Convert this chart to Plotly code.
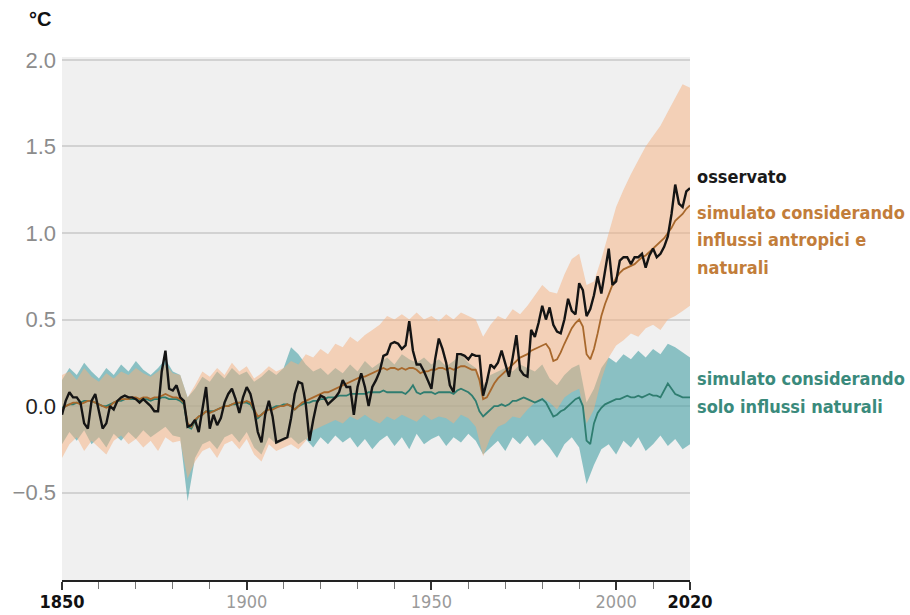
import plotly.graph_objects as go

years = list(range(1850, 2021))
band_years = list(range(1850, 2021, 2))

observed = [
    -0.05, 0.03, 0.08, 0.05, 0.05, 0.02, -0.10, -0.13, 0.03, 0.07,
    -0.03, -0.13, -0.10, 0.00, -0.02, 0.03, 0.05, 0.06, 0.05, 0.05,
    0.04, 0.02, 0.04, 0.02, 0.00, -0.03, -0.03, 0.20, 0.32, 0.10,
    0.09, 0.12, 0.05, 0.03, -0.12, -0.11, -0.08, -0.15, -0.02, 0.11,
    -0.13, -0.05, -0.11, -0.07, 0.02, 0.07, 0.10, 0.04, -0.04, 0.05,
    0.11, 0.07, -0.02, -0.15, -0.21, -0.05, 0.03, -0.06, -0.21, -0.20,
    -0.19, -0.18, -0.07, 0.07, 0.14, 0.13, 0.01, -0.20, -0.08, 0.02,
    0.06, 0.05, 0.01, 0.03, 0.05, 0.08, 0.15, 0.11, 0.11, -0.05,
    0.11, 0.19, 0.11, 0.00, 0.11, 0.15, 0.20, 0.29, 0.30, 0.36,
    0.37, 0.36, 0.33, 0.35, 0.49, 0.32, 0.24, 0.24, 0.20, 0.15,
    0.10, 0.27, 0.39, 0.33, 0.25, 0.12, 0.08, 0.30, 0.30, 0.29,
    0.27, 0.30, 0.29, 0.29, 0.06, 0.14, 0.24, 0.22, 0.25, 0.32,
    0.25, 0.17, 0.28, 0.41, 0.21, 0.18, 0.17, 0.44, 0.40, 0.48,
    0.58, 0.50, 0.57, 0.47, 0.43, 0.42, 0.50, 0.62, 0.55, 0.53,
    0.71, 0.67, 0.52, 0.56, 0.64, 0.75, 0.65, 0.77, 0.91, 0.70,
    0.72, 0.84, 0.86, 0.86, 0.82, 0.86, 0.86, 0.88, 0.80, 0.87,
    0.91, 0.86, 0.88, 0.92, 0.98, 1.11, 1.28, 1.17, 1.15, 1.24,
    1.26,
]

sim_human_natural = [
    -0.02, 0.00, 0.01, 0.02, 0.02, 0.01, 0.02, 0.03, 0.03, 0.02,
    0.01, 0.00, -0.01, 0.00, 0.02, 0.03, 0.04, 0.04, 0.04, 0.05,
    0.05, 0.04, 0.05, 0.05, 0.04, 0.05, 0.05, 0.06, 0.07, 0.06,
    0.05, 0.05, 0.04, 0.02, -0.10, -0.12, -0.08, -0.06, -0.05, -0.03,
    -0.04, -0.03, -0.02, -0.01, 0.00, 0.00, 0.01, 0.02, 0.02, 0.02,
    0.03, 0.02, -0.02, -0.06, -0.05, -0.03, -0.02, -0.02, -0.01, 0.00,
    0.00, 0.01, 0.00, -0.02, 0.00, 0.02, 0.03, 0.04, 0.05, 0.06,
    0.07, 0.08, 0.08, 0.09, 0.10, 0.11, 0.12, 0.13, 0.14, 0.15,
    0.16, 0.17, 0.17, 0.18, 0.19, 0.20, 0.21, 0.22, 0.21, 0.22,
    0.22, 0.21, 0.22, 0.21, 0.22, 0.22, 0.21, 0.19, 0.20, 0.20,
    0.21, 0.21, 0.22, 0.22, 0.21, 0.22, 0.21, 0.22, 0.23, 0.23,
    0.22, 0.21, 0.21, 0.15, 0.04, 0.05, 0.09, 0.13, 0.16, 0.18,
    0.20, 0.22, 0.24, 0.26, 0.28, 0.29, 0.30, 0.32, 0.33, 0.34,
    0.35, 0.36, 0.33, 0.26, 0.27, 0.31, 0.36, 0.41, 0.45, 0.48,
    0.50, 0.46, 0.30, 0.27, 0.33, 0.42, 0.52, 0.59, 0.65, 0.70,
    0.74, 0.77, 0.79, 0.80, 0.81, 0.82, 0.84, 0.86, 0.87, 0.89,
    0.91, 0.93, 0.95, 0.97, 1.00, 1.03, 1.07, 1.09, 1.11, 1.14,
    1.16,
]

sim_natural = [
    -0.01, 0.00, 0.01, 0.01, 0.02, 0.02, 0.03, 0.03, 0.03, 0.02,
    0.01, 0.00, 0.00, 0.01, 0.02, 0.03, 0.03, 0.04, 0.04, 0.04,
    0.04, 0.03, 0.04, 0.04, 0.03, 0.04, 0.04, 0.05, 0.05, 0.04,
    0.04, 0.04, 0.03, 0.01, -0.12, -0.13, -0.09, -0.06, -0.05, -0.03,
    -0.03, -0.03, -0.02, -0.01, 0.00, 0.00, 0.01, 0.01, 0.02, 0.02,
    0.02, 0.01, -0.03, -0.07, -0.05, -0.03, -0.02, -0.01, 0.00, 0.00,
    0.01, 0.01, 0.00, -0.02, 0.00, 0.01, 0.02, 0.02, 0.03, 0.03,
    0.04, 0.04, 0.05, 0.05, 0.05, 0.06, 0.06, 0.06, 0.07, 0.07,
    0.07, 0.07, 0.07, 0.08, 0.08, 0.08, 0.08, 0.09, 0.08, 0.08,
    0.08, 0.08, 0.08, 0.07, 0.09, 0.12, 0.08, 0.07, 0.08, 0.08,
    0.08, 0.07, 0.08, 0.08, 0.08, 0.08, 0.07, 0.09, 0.10, 0.09,
    0.08, 0.06, 0.03, -0.03, -0.06, -0.04, -0.02, 0.00, 0.00, 0.01,
    0.00, 0.01, 0.03, 0.03, 0.04, 0.05, 0.04, 0.03, 0.02, 0.03,
    0.04, 0.02, -0.02, -0.06, -0.05, -0.03, -0.02, 0.00, 0.02, 0.04,
    0.05, 0.00, -0.20, -0.22, -0.10, -0.04, -0.01, 0.01, 0.02, 0.03,
    0.04, 0.04, 0.05, 0.06, 0.05, 0.05, 0.06, 0.05, 0.06, 0.07,
    0.06, 0.06, 0.05, 0.09, 0.13, 0.10, 0.07, 0.06, 0.05, 0.05,
    0.05,
]

human_natural_upper = [
    0.18, 0.20, 0.15, 0.22, 0.17, 0.14, 0.19, 0.16, 0.20, 0.18,
    0.22, 0.19, 0.17, 0.20, 0.24, 0.19, 0.18, 0.05, 0.12, 0.20,
    0.17, 0.22, 0.18, 0.25, 0.20, 0.23, 0.16, 0.19, 0.23, 0.20,
    0.22, 0.26, 0.24, 0.30, 0.28, 0.33, 0.30, 0.36, 0.34, 0.40,
    0.37, 0.41, 0.44, 0.47, 0.52, 0.50, 0.53, 0.50, 0.54, 0.50,
    0.52, 0.49, 0.53, 0.50, 0.54, 0.52, 0.50, 0.40, 0.47, 0.52,
    0.50, 0.56, 0.53, 0.58, 0.64, 0.70, 0.66, 0.65, 0.76, 0.85,
    0.88, 0.70, 0.72, 0.85, 1.00, 1.15, 1.25, 1.34, 1.42, 1.50,
    1.56, 1.62, 1.70, 1.78, 1.86, 1.84,
]

human_natural_lower = [
    -0.30, -0.22, -0.18, -0.26, -0.20, -0.24, -0.28, -0.20, -0.17, -0.22,
    -0.19, -0.24, -0.20, -0.26, -0.18, -0.21, -0.20, -0.42, -0.32, -0.26,
    -0.24, -0.30, -0.22, -0.20, -0.25, -0.19, -0.28, -0.32, -0.22, -0.26,
    -0.24, -0.22, -0.25, -0.20, -0.14, -0.12, -0.10, -0.08, -0.10, -0.06,
    -0.08, -0.05, -0.08, -0.10, -0.06, -0.08, -0.05, -0.07, -0.09, -0.05,
    -0.08, -0.06, -0.07, -0.10, -0.05, -0.07, -0.12, -0.29, -0.18, -0.12,
    -0.10, -0.06, -0.07, -0.02, 0.02, 0.05, 0.02, -0.02, 0.05, 0.08,
    0.10, -0.10, -0.02, 0.15, 0.28, 0.35, 0.38, 0.42, 0.40, 0.45,
    0.47, 0.44, 0.50, 0.52, 0.55, 0.58,
]

natural_upper = [
    0.15, 0.22, 0.18, 0.25, 0.20, 0.16, 0.22, 0.18, 0.24, 0.20,
    0.26, 0.21, 0.18, 0.22, 0.27, 0.20, 0.18, 0.05, 0.10, 0.17,
    0.14, 0.20, 0.16, 0.22, 0.18, 0.20, 0.14, 0.17, 0.21, 0.18,
    0.22, 0.34, 0.30, 0.24, 0.20, 0.22, 0.18, 0.22, 0.19, 0.24,
    0.20, 0.26, 0.22, 0.25, 0.28, 0.24, 0.30, 0.27, 0.25, 0.28,
    0.24, 0.27, 0.23, 0.26, 0.30, 0.25, 0.22, 0.12, 0.18, 0.20,
    0.22, 0.20, 0.24, 0.22, 0.20, 0.24, 0.16, 0.12, 0.18, 0.22,
    0.24, 0.02, 0.10, 0.22, 0.28, 0.25, 0.30, 0.27, 0.32, 0.28,
    0.33, 0.30, 0.36, 0.34, 0.31, 0.28,
]

natural_lower = [
    -0.22, -0.15, -0.20, -0.14, -0.22, -0.18, -0.24, -0.16, -0.20, -0.15,
    -0.19, -0.14, -0.18, -0.15, -0.12, -0.17, -0.18, -0.55, -0.30, -0.22,
    -0.20, -0.25, -0.18, -0.16, -0.21, -0.15, -0.24, -0.28, -0.18, -0.22,
    -0.20, -0.18, -0.22, -0.19, -0.24, -0.18, -0.22, -0.17, -0.21, -0.18,
    -0.24, -0.19, -0.25, -0.20, -0.17, -0.23, -0.18, -0.25, -0.16, -0.22,
    -0.19, -0.17, -0.23, -0.18, -0.21, -0.16, -0.20, -0.28, -0.24, -0.20,
    -0.26, -0.18, -0.22, -0.17, -0.23, -0.19, -0.24, -0.30, -0.22, -0.18,
    -0.24, -0.45, -0.34, -0.25, -0.22, -0.28, -0.20, -0.24, -0.18, -0.26,
    -0.22, -0.17, -0.23, -0.19, -0.25, -0.22,
]

x_tick_values = [1850, 1900, 1950, 2000, 2020]
x_tick_labels = [
    "<span style='color:#111111'><b>1850</b></span>",
    "1900", "1950", "2000",
    "<span style='color:#111111'><b>2020</b></span>",
]
y_tick_values = [-0.5, 0.0, 0.5, 1.0, 1.5, 2.0]
y_tick_labels = ["\u22120.5", "<span style='color:#222222'>0.0</span>", "0.5", "1.0", "1.5", "2.0"]

# legend labels, one entry per text line, with the value each line is centred on
label_lines = [
    ("osservato", 1.329, "#1a1a1a"),
    ("simulato considerando", 1.121, "#c27d3a"),
    ("influssi antropici e", 0.960, "#c27d3a"),
    ("naturali", 0.798, "#c27d3a"),
    ("simulato considerando", 0.162, "#3a8a7c"),
    ("solo influssi naturali", 0.000, "#3a8a7c"),
]

for arr in (observed, sim_human_natural, sim_natural):
    assert len(arr) == len(years)
for arr in (human_natural_upper, human_natural_lower, natural_upper, natural_lower):
    assert len(arr) == len(band_years)

fig = go.Figure()

fig.add_trace(go.Scatter(
    x=band_years + band_years[::-1],
    y=natural_upper + natural_lower[::-1],
    fill="toself", fillcolor="rgba(70,160,165,0.6)",
    line=dict(width=0), mode="lines", hoverinfo="skip", showlegend=False,
))
fig.add_trace(go.Scatter(
    x=band_years + band_years[::-1],
    y=human_natural_upper + human_natural_lower[::-1],
    fill="toself", fillcolor="rgba(245,175,125,0.5)",
    line=dict(width=0), mode="lines", hoverinfo="skip", showlegend=False,
))
fig.add_trace(go.Scatter(
    x=years, y=sim_natural, mode="lines",
    line=dict(color="#2f7d70", width=1.8), showlegend=False,
))
fig.add_trace(go.Scatter(
    x=years, y=sim_human_natural, mode="lines",
    line=dict(color="#a8682c", width=1.8), showlegend=False,
))
fig.add_trace(go.Scatter(
    x=years, y=observed, mode="lines",
    line=dict(color="#141414", width=2.4), showlegend=False,
))

narrow = "DejaVu Sans Condensed, Liberation Sans Narrow, sans-serif"

annotations = [
    dict(text="<b>°C</b>", xref="paper", yref="paper", x=0, y=1,
         xanchor="right", yanchor="bottom", xshift=-9, yshift=25, showarrow=False,
         font=dict(family="Liberation Sans, Arial, sans-serif", size=20, color="#111111")),
]
for text, yval, color in label_lines:
    annotations.append(dict(
        text="<b>" + text + "</b>", xref="paper", yref="y", x=1, y=yval,
        xanchor="left", yanchor="middle", xshift=5, showarrow=False, align="left",
        font=dict(family=narrow, size=18, color=color),
    ))

fig.update_layout(
    width=910, height=615,
    margin=dict(l=62, r=220, t=57, b=35),
    paper_bgcolor="white",
    plot_bgcolor="#f0f0f0",
    showlegend=False,
    xaxis=dict(
        range=[1850, 2020], automargin=False,
        tickmode="array", tickvals=x_tick_values, ticktext=x_tick_labels,
        ticks="outside", ticklen=8, tickwidth=1.6, tickcolor="#333333",
        showline=True, linecolor="#222222", linewidth=1.6,
        showgrid=False, zeroline=False,
        tickfont=dict(family=narrow, size=18, color="#9a9a9a"),
        ticklabelstandoff=-3,
        minor=dict(dtick=10, tick0=1850, ticks="outside", ticklen=7,
                   tickwidth=1, tickcolor="#777777", showgrid=False),
    ),
    yaxis=dict(
        range=[-1.005, 2.017], automargin=False,
        tickmode="array", tickvals=y_tick_values, ticktext=y_tick_labels,
        showgrid=True, gridcolor="#d2d2d2", gridwidth=1.5,
        zeroline=False, showline=False, ticks="",
        tickfont=dict(family="Liberation Sans, Arial, sans-serif", size=22, color="#8c8c8c"),
        ticklabelstandoff=5,
    ),
    annotations=annotations,
)

fig.write_html("out.html", config={"displayModeBar": False},
               post_script="document.body.style.margin='0px';")
